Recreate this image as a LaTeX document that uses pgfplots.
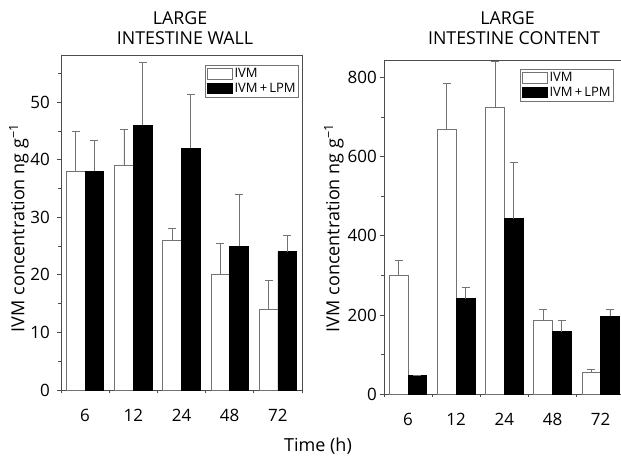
\documentclass[border=0pt]{standalone}
\usepackage{pgfplots}
\pgfplotsset{compat=1.18}
\usepackage{fontspec}
\setmainfont{Open Sans}
\newcommand{\tkfont}{\fontsize{17}{19}\selectfont}
\newcommand{\lbfont}{\fontsize{18}{21}\selectfont}
\newcommand{\ttfontx}{\fontsize{17.8}{21}\selectfont}
\newcommand{\lgfont}{\fontsize{13}{15}\selectfont}
\definecolor{edge}{gray}{0.45}
\definecolor{axcol}{gray}{0.3}
\pgfplotsset{
  panel/.style={
    scale only axis,
    ybar=0pt, bar width=18.7pt,
    xmin=-0.5, xmax=4.5,
    ymin=0,
    xtick={0,...,4}, xticklabels={6,12,24,48,72},
    minor xtick={-0.5,0.5,...,4.5},
    major x tick style={draw=none},
    tick pos=left,
    tick align=outside,
    major tick length=4pt, minor tick length=3pt,
    axis line style={axcol, line width=0.8pt},
    every tick/.style={axcol, line width=0.8pt},
    /pgf/number format/assume math mode=true,
    ticklabel style={font=\tkfont},
    xticklabel style={anchor=base, yshift=-27pt},
    legend style={draw=edge, line width=0.6pt, font=\lgfont, inner sep=1pt, row sep=0pt, cells={anchor=west}, anchor=north east},
    legend cell align=left,
  },
  ivm/.style={fill=white, draw=edge, line width=0.8pt,
    legend image code/.code={\draw[##1] (0pt,-5.3pt) rectangle (25pt,5.3pt);},
    error bars/.cd, y dir=plus, y explicit,
    error bar style={edge, line width=0.8pt},
    error mark options={rotate=90, mark size=4pt, edge, line width=0.8pt}},
  lpm/.style={fill=black, draw=black, line width=0.8pt,
    legend image code/.code={\draw[##1] (0pt,-5.3pt) rectangle (25pt,5.3pt);},
    error bars/.cd, y dir=plus, y explicit,
    error bar style={edge, line width=0.8pt},
    error mark options={rotate=90, mark size=4pt, edge, line width=0.8pt}},
}
\begin{document}
\begin{tikzpicture}
\clip (0pt,0pt) rectangle (621pt,456pt);
% left panel
\begin{axis}[panel,
  at={(61pt,66pt)}, anchor=south west,
  width=241pt, height=335pt,
  ymax=58.2,
  ytick={0,10,...,50}, minor ytick={5,15,...,55},
  yticklabel style={anchor=east, inner sep=0pt, xshift=-7pt},
  legend style={at={(0.9876,0.970)}},
]
\addplot[ivm] coordinates {(0,38) +- (0,7) (1,39) +- (0,6.2) (2,26) +- (0,2) (3,20) +- (0,5.4) (4,14) +- (0,5)};
\addplot[lpm] coordinates {(0,38) +- (0,5.3) (1,46) +- (0,11) (2,42) +- (0,9.4) (3,25) +- (0,9) (4,24) +- (0,2.8)};
\legend{IVM, IVM\,+\,LPM}
\end{axis}
% right panel
\begin{axis}[panel,
  at={(384pt,62pt)}, anchor=south west,
  width=240.7pt, height=334pt,
  ymax=845,
  ytick={0,200,...,800}, minor ytick={100,300,...,700},
  yticklabel style={anchor=east, inner sep=0pt, xshift=-3pt},
  legend style={at={(0.9556,0.973)}},
]
\addplot[ivm] coordinates {(0,299) +- (0,38) (1,670) +- (0,116) (2,725) +- (0,116) (3,186) +- (0,27) (4,55) +- (0,8)};
\addplot[lpm] coordinates {(0,46) +- (0,0) (1,241) +- (0,28) (2,444) +- (0,143) (3,158) +- (0,28) (4,197) +- (0,16)};
\legend{IVM, IVM\,+\,LPM}
\end{axis}
% titles
\node[anchor=base, font=\ttfontx] at (180pt,431.7pt) {LARGE};
\node[anchor=base, font=\ttfontx] at (185pt,411.7pt) {INTESTINE WALL};
\node[anchor=base, font=\ttfontx] at (507.5pt,431.7pt) {LARGE};
\node[anchor=base, font=\ttfontx] at (514pt,411pt) {INTESTINE CONTENT};
% y labels
\node[rotate=90, font=\lbfont] at (19pt,228pt) {IVM concentration ng g\textsuperscript{\char"2212 1}};
\node[rotate=90, font=\lbfont] at (334pt,228pt) {IVM concentration ng g\textsuperscript{\char"2212 1}};
% x label
\node[anchor=base, font=\lbfont] at (318pt,5pt) {Time (h)};
\end{tikzpicture}
\end{document}
